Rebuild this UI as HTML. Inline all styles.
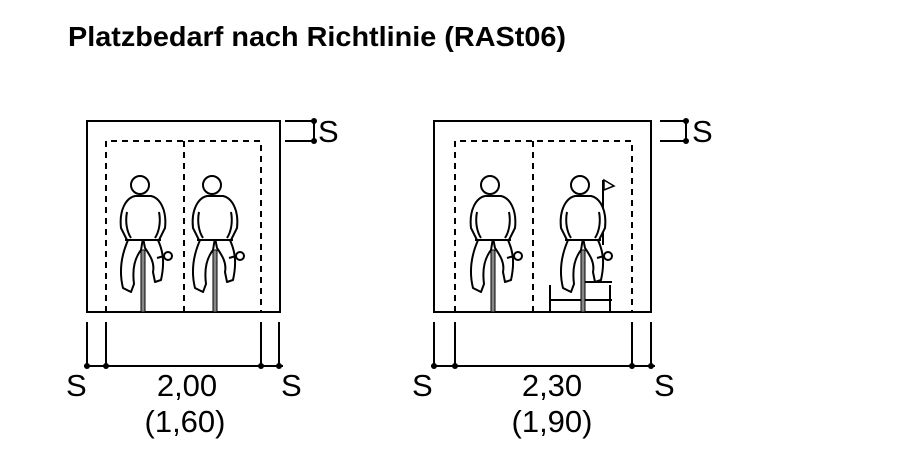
<!DOCTYPE html>
<html><head><meta charset="utf-8"><style>
html,body{margin:0;padding:0;background:#fff;width:900px;height:475px;overflow:hidden}
svg{display:block}
text{font-family:"Liberation Sans",Arial,sans-serif;fill:#000}
</style></head><body>
<svg width="900" height="475" viewBox="0 0 900 475" xmlns="http://www.w3.org/2000/svg">
<defs>
<g id="rider" fill="#fff" stroke="#000" stroke-width="2" stroke-linejoin="round">
  <rect x="-2" y="250" width="4" height="62" fill="#888" stroke="#000" stroke-width="1"/>
  <path d="M-14,238 C-22,255 -24,272 -20,288 L-12,292 L-9,284 C-11,268 -8,258 -2,250 L0,238 Z"/>
  <path d="M14,238 C20,250 22,262 18,280 L12,282 L10,272 C12,262 6,254 2,248 L0,238 Z"/>
  <path d="M-22,228 C-24,210 -17,198 -8,196 L8,196 C17,198 24,210 22,228 L16,240 L-16,240 Z"/>
  <path d="M-16,212 C-18,222 -16,232 -12,238 M16,212 C18,222 16,232 12,238" fill="none"/>
  <circle cx="-3" cy="185" r="9"/>
  <circle cx="25" cy="256" r="4"/>
  <line x1="14" y1="258" x2="21" y2="256"/>
  <line x1="-18" y1="240" x2="18" y2="240"/>
</g>
</defs>

<text x="68" y="46" font-size="28" font-weight="bold" textLength="498" lengthAdjust="spacingAndGlyphs">Platzbedarf nach Richtlinie (RASt06)</text>

<g fill="none" stroke="#000" stroke-width="2">
  <rect x="87" y="121" width="193" height="191"/>
  <path d="M106,312 V141 H261 V312 M184,141 V312" stroke-dasharray="6,5"/>
  <path d="M87,322 V366 M106,322 V366 M261,322 V366 M279,322 V366 M84,366 H283"/>
  <path d="M285,121 H314 M285,141 H314 M314,119 V143"/>
  <rect x="434" y="121" width="217" height="191"/>
  <path d="M455,312 V141 H632 V312 M533,141 V312" stroke-dasharray="6,5"/>
  <path d="M434,322 V366 M455,322 V366 M632,322 V366 M651,322 V366 M431,366 H655"/>
  <path d="M660,121 H686 M660,141 H686 M686,119 V143"/>
  <path d="M550,312 V285 M550,300 H612 M610,312 V285 M583,282 H612"/>
  <path d="M603,180 V245"/>
</g>
<path d="M604,180 L614,186 L604,190 Z" fill="#fff" stroke="#000" stroke-width="1.5"/>
<g fill="#000">
  <circle cx="87" cy="366" r="3"/><circle cx="106" cy="366" r="3"/><circle cx="261" cy="366" r="3"/><circle cx="279" cy="366" r="3"/>
  <circle cx="434" cy="366" r="3"/><circle cx="455" cy="366" r="3"/><circle cx="632" cy="366" r="3"/><circle cx="651" cy="366" r="3"/>
  <circle cx="314" cy="121" r="3"/><circle cx="314" cy="141" r="3"/>
  <circle cx="686" cy="121" r="3"/><circle cx="686" cy="141" r="3"/>
</g>

<use href="#rider" transform="translate(143,0)"/>
<use href="#rider" transform="translate(215,0)"/>
<use href="#rider" transform="translate(493,0)"/>
<use href="#rider" transform="translate(583,0)"/>

<g font-size="31">
  <text x="318" y="142">S</text>
  <text x="692" y="142">S</text>
  <text x="66" y="396">S</text>
  <text x="281" y="396">S</text>
  <text x="412" y="396">S</text>
  <text x="654" y="396">S</text>
  <text x="187" y="396" text-anchor="middle">2,00</text>
  <text x="185" y="432" text-anchor="middle">(1,60)</text>
  <text x="552" y="396" text-anchor="middle">2,30</text>
  <text x="552" y="432" text-anchor="middle">(1,90)</text>
</g>
</svg>
</body></html>
